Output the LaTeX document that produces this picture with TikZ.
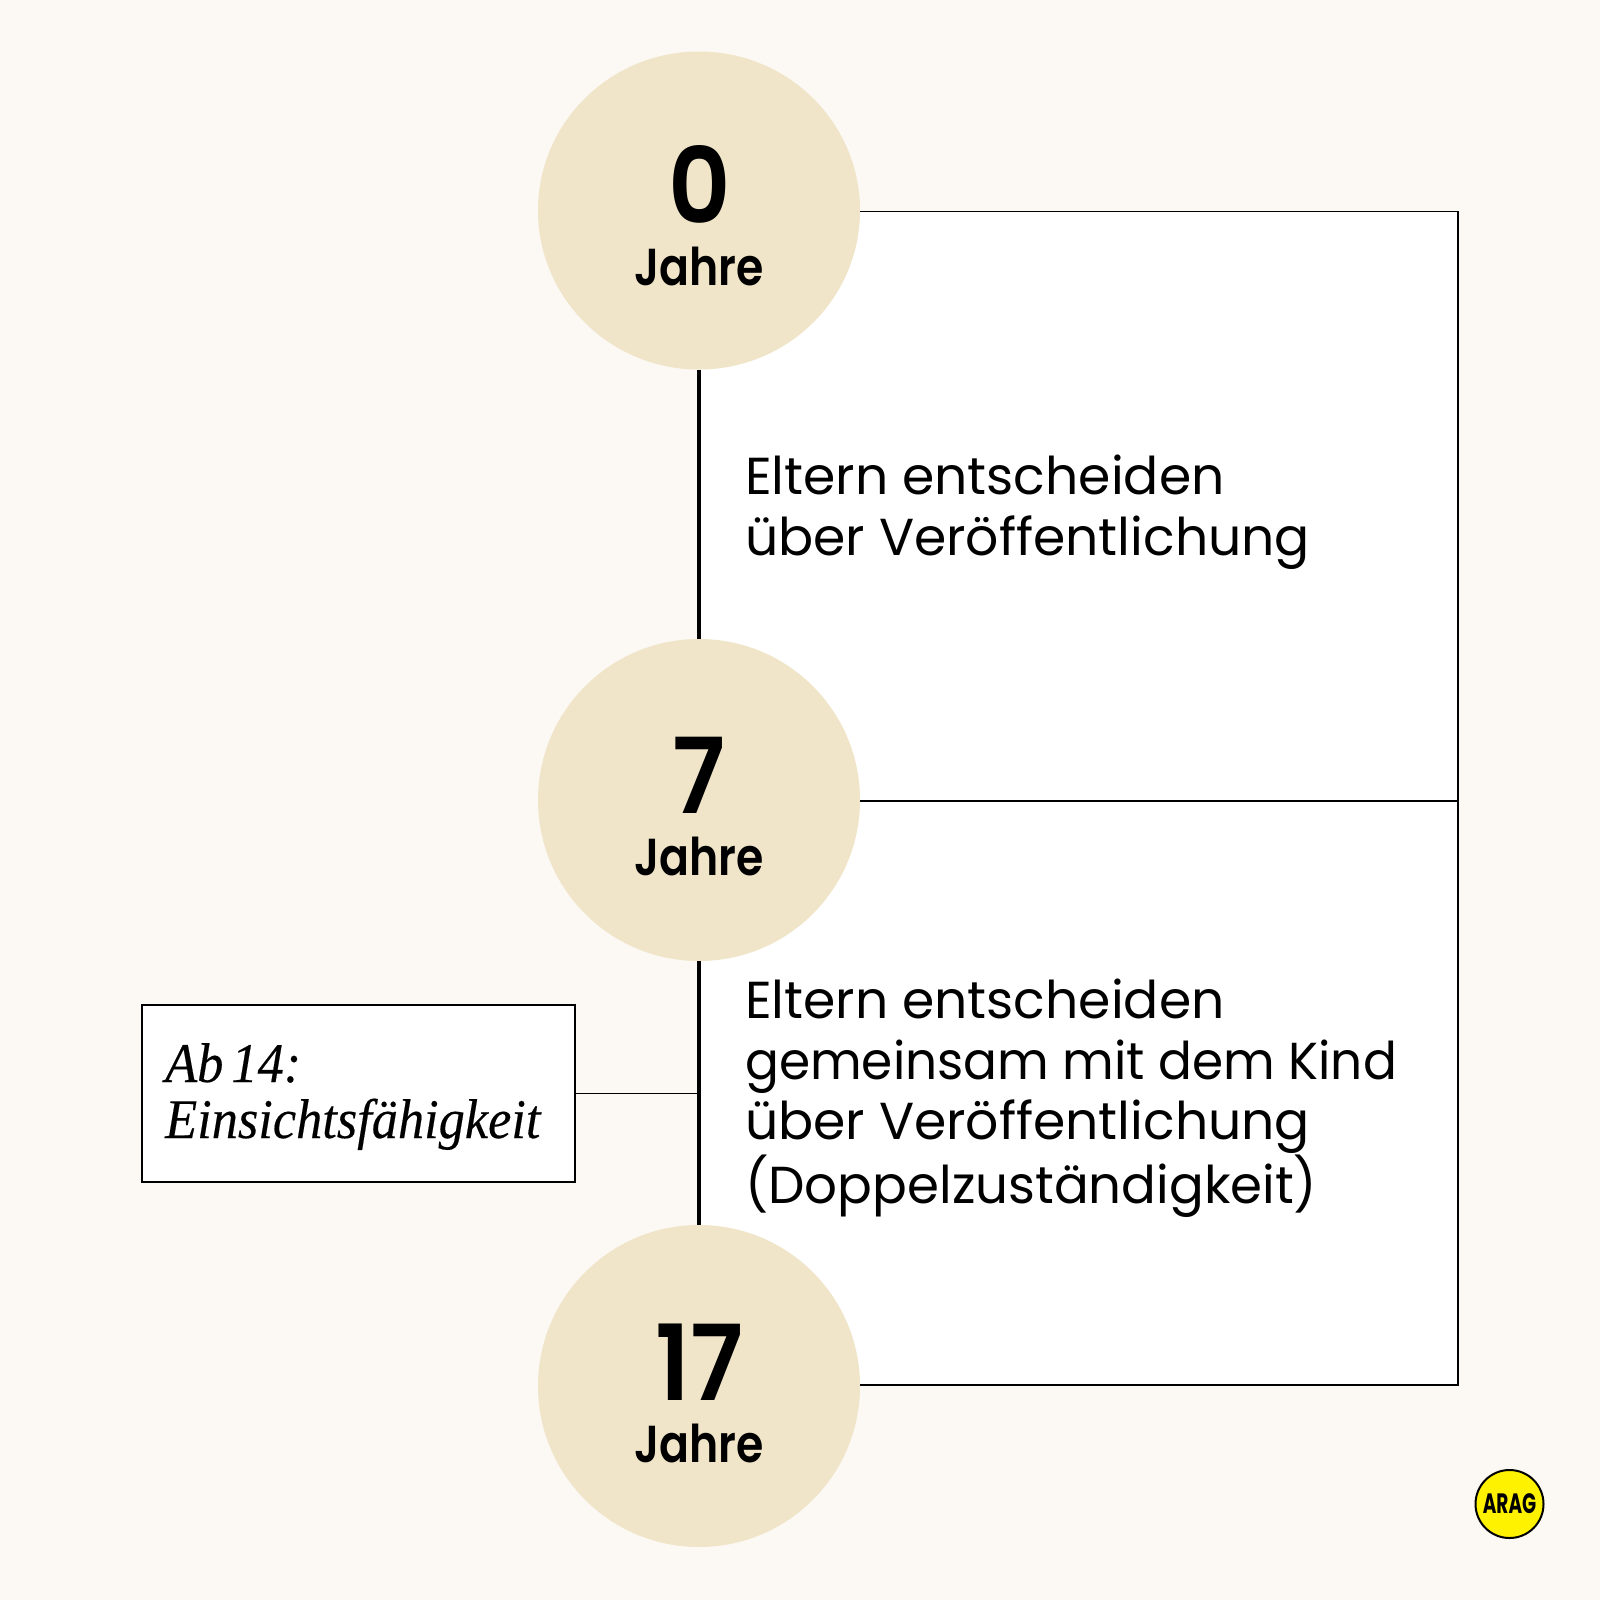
\documentclass[tikz,border=0pt]{standalone}
\usepackage{fontspec}
\usetikzlibrary{shapes.geometric}
\setmainfont{Poppins}
\newfontfamily\bodyfont{Poppins}[FakeStretch=1.0]
\newfontfamily\bodynarrow{Poppins}[FakeStretch=0.965]
\newfontfamily\bodymid{Poppins}[FakeStretch=0.99]
\newfontfamily\numfont{Poppins SemiBold}[FakeStretch=0.92]
\newfontfamily\unitfont{Poppins SemiBold}[FakeStretch=0.85]
\newfontfamily\serifit{Liberation Serif Italic}[FakeStretch=0.935,FakeBold=0.3]
\newfontfamily\logofont{Poppins Bold}[FakeStretch=0.66]
\definecolor{pagebg}{HTML}{FCF9F4}
\definecolor{circ}{HTML}{F0E5C8}
\definecolor{argy}{HTML}{FFF200}
\tikzset{
 agecircle/.style={ellipse,fill=circ,minimum width=322pt,minimum height=322pt,inner sep=0pt},
 numlabel/.style={font=\numfont\fontsize{105}{105}\selectfont,anchor=base,inner sep=0pt},
 unitlabel/.style={font=\unitfont\fontsize{52}{52}\selectfont,anchor=base,inner sep=0pt},
 bodytext/.style={font=\bodyfont\fontsize{52}{60.5}\selectfont,align=left,anchor=base west,inner sep=0pt},
 thinline/.style={draw=black,line width=1.6pt},
 axisline/.style={draw=black,line width=3.2pt},
}
\begin{document}
\begin{tikzpicture}[x=1pt,y=-1pt]
\useasboundingbox (0,0) rectangle (1600,1600);
\fill[pagebg] (0,0) rectangle (1600,1600);
\coordinate (tr) at (1458,211.5);
\coordinate (mr) at (1458,801);
\coordinate (br) at (1458,1385);
\coordinate (ax) at (699,1093.5);
\fill[white] (699,211.5) rectangle (1458,1385);
\node[agecircle,minimum height=318pt] (c0) at (699,210.5) {};
\node[agecircle] (c7) at (699,800) {};
\node[agecircle] (c17) at (699,1386) {};
\draw[axisline] (c0) -- (c7);
\draw[axisline] (c7) -- (c17);
\draw[thinline] (c0.east |- tr) -- (tr) -- (br) -- (c17.east |- br);
\draw[thinline] (c7.east |- mr) -- (mr);
\node[draw=black,line width=1.6pt,fill=white,minimum width=433pt,minimum height=177pt,inner sep=0pt] (note) at (358.5,1093.5) {};
\draw[thinline] (note.east) -- (ax);
\node[numlabel] (n0) at (700,223) {0};
\node[unitlabel] (u0) at (699,285) {Jahre};
\node[numlabel] (n7) at (699,813) {7};
\node[unitlabel] (u7) at (699,875) {Jahre};
\node[numlabel] (n17) at (699,1400) {17};
\node[unitlabel] (u17) at (699,1462) {Jahre};
\node[bodytext] (t1) at (745,555) {Eltern entscheiden\\über Veröffentlichung};
\node[bodytext] (t2) at (745,1203.5) {Eltern entscheiden\\{\bodynarrow gemeinsam mit dem Kind}\\über Veröffentlichung\\{\bodymid (Doppelzuständigkeit)}};
\node[font=\serifit\fontsize{56}{56}\selectfont,align=left,anchor=base west,inner sep=0pt] (nt) at (165,1138) {Ab\hspace{-5pt} 14:\\Einsichtsfähigkeit};
\node[circle,draw=black,line width=2pt,fill=argy,minimum size=68pt,inner sep=0pt,font=\logofont\fontsize{28}{28}\selectfont] (logo) at (1509.5,1504) {ARAG};
\end{tikzpicture}
\end{document}
